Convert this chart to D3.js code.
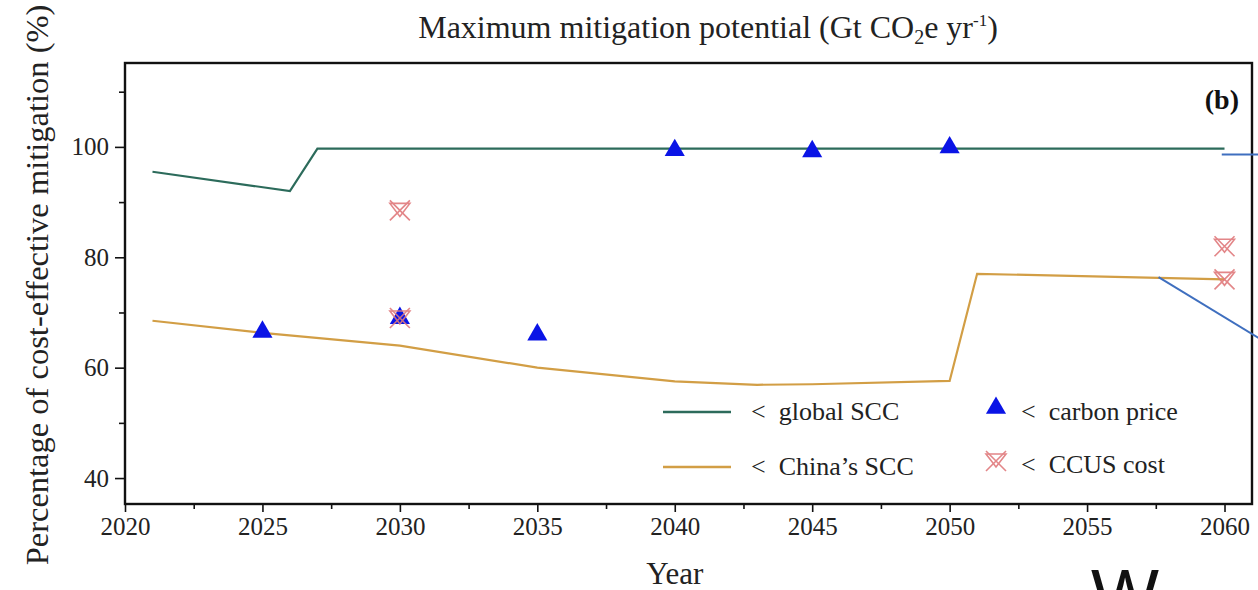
<!DOCTYPE html>
<html>
<head>
<meta charset="utf-8">
<script src="https://cdn.jsdelivr.net/npm/d3@7"></script>
<style>
  html, body { margin: 0; padding: 0; background: #fff; }
  svg { display: block; font-family: 'Liberation Serif', 'DejaVu Serif', serif; }
</style>
</head>
<body>
<div id="chart"></div>
<script>
// Data
var globalYears = [2021, 2026, 2027, 2060];
var globalVals = [95.5, 92.0, 99.7, 99.7];

var chinaYears = [2021, 2025, 2030, 2035, 2040, 2043, 2045, 2050, 2051, 2060];
var chinaVals = [68.5, 66.3, 64.0, 60.0, 57.5, 56.9, 57.0, 57.6, 77.0, 76.0];

var carbonYears = [2025, 2030, 2035, 2040, 2045, 2050];
var carbonVals = [66.3, 68.8, 65.8, 99.2, 99.0, 99.7];

var ccusYears = [2030, 2030, 2060, 2060];
var ccusVals = [88.5, 69.0, 82.0, 76.0];

var xTicks = [2020, 2025, 2030, 2035, 2040, 2045, 2050, 2055, 2060];
var xMinor = [2022.5, 2027.5, 2032.5, 2037.5, 2042.5, 2047.5, 2052.5, 2057.5];
var yTicks = [40, 60, 80, 100];
var yMinor = [50, 70, 90, 110];

(function () {
  'use strict';
  var width = 1258, height = 590;
  var margin = { top: 63, right: 6, bottom: 86, left: 125 };
  var iw = width - margin.left - margin.right;
  var ih = height - margin.top - margin.bottom;

  var green = '#2c6b5b', orange = '#d29e45', blue = '#0a14e6', pink = '#e0797c';

  var svg = d3.select('#chart').append('svg').attr('width', width).attr('height', height);
  var g = svg.append('g').attr('transform', 'translate(' + margin.left + ',' + margin.top + ')');

  var x = d3.scaleLinear().domain([2020, 2061]).range([0, iw]);
  var y = d3.scaleLinear().domain([35.3, 115.2]).range([ih, 0]);

  // axes
  g.append('g').attr('class', 'xax').attr('transform', 'translate(0,' + ih + ')')
    .call(d3.axisBottom(x).tickValues(xTicks).tickFormat(d3.format('d')).tickSize(8).tickPadding(5));
  g.append('g').attr('transform', 'translate(0,' + ih + ')')
    .call(d3.axisBottom(x).tickValues(xMinor).tickFormat('').tickSize(5))
    .select('.domain').remove();
  g.append('g').attr('class', 'yax')
    .call(d3.axisLeft(y).tickValues(yTicks).tickSize(10).tickPadding(6));
  g.append('g')
    .call(d3.axisLeft(y).tickValues(yMinor).tickFormat('').tickSize(6))
    .select('.domain').remove();
  svg.selectAll('.xax .tick text').attr('font-size', 25);
  svg.selectAll('.yax .tick text').attr('font-size', 25);
  svg.selectAll('.tick text').attr('fill', '#222').attr('font-family', "'Liberation Serif', serif");
  svg.selectAll('.tick line').attr('stroke', '#111').attr('stroke-width', 1.6);
  svg.selectAll('.domain').attr('stroke', 'none');

  // frame
  g.append('rect').attr('x', 0).attr('y', 0).attr('width', iw).attr('height', ih)
    .attr('fill', 'none').attr('stroke', '#111').attr('stroke-width', 2.4);

  // lines
  var line = d3.line().x(function (d) { return x(d[0]); }).y(function (d) { return y(d[1]); });
  g.append('path').datum(d3.zip(chinaYears, chinaVals)).attr('d', line)
    .attr('fill', 'none').attr('stroke', orange).attr('stroke-width', 2.2);
  g.append('path').datum(d3.zip(globalYears, globalVals)).attr('d', line)
    .attr('fill', 'none').attr('stroke', green).attr('stroke-width', 2.2);

  // markers
  var tri = d3.symbol().type(d3.symbolTriangle).size(175);
  function drawTri(sel, cx, cy) {
    sel.append('path').attr('d', tri()).attr('transform', 'translate(' + cx + ',' + (cy - 1) + ')')
      .attr('fill', blue);
  }
  function drawCcus(sel, cx, cy) {
    var s = 10;
    var m = sel.append('g').attr('transform', 'translate(' + cx + ',' + cy + ')')
      .attr('stroke', pink).attr('stroke-width', 1.6).attr('fill', 'none').attr('opacity', 0.9);
    m.append('path').attr('d', 'M' + (-s) + ',' + (-s) + 'L' + s + ',' + s + 'M' + s + ',' + (-s) + 'L' + (-s) + ',' + s);
    m.append('path').attr('d', 'M' + (-s) + ',' + (-s * 0.7) + 'L0,' + (s * 0.6) + 'L' + s + ',' + (-s * 0.7) + 'Z');
  }
  carbonYears.forEach(function (yr, i) { drawTri(g, x(yr), y(carbonVals[i])); });
  ccusYears.forEach(function (yr, i) { drawCcus(g, x(yr), y(ccusVals[i])); });

  // legend
  var lg = g.append('g').attr('font-size', 26).attr('fill', '#222');
  function legLine(ly, color, label) {
    lg.append('line').attr('x1', 538).attr('x2', 606).attr('y1', ly).attr('y2', ly)
      .attr('stroke', color).attr('stroke-width', 2.4);
    lg.append('text').attr('x', 626).attr('y', ly + 8).attr('xml:space', 'preserve').text('<  ' + label);
  }
  legLine(349, green, 'global SCC');
  legLine(404, orange, 'China\u2019s SCC');
  drawTri(lg, 871, 346);
  lg.append('text').attr('x', 896).attr('y', 357).attr('xml:space', 'preserve').text('<  carbon price');
  drawCcus(lg, 871, 398);
  lg.append('text').attr('x', 896).attr('y', 410).attr('xml:space', 'preserve').text('<  CCUS cost');

  // panel label
  g.append('text').attr('x', iw - 13).attr('y', 46).attr('text-anchor', 'end')
    .attr('font-size', 28).attr('font-weight', 'bold').attr('fill', '#111').text('(b)');

  // axis titles
  svg.append('text').attr('x', margin.left + x(2040)).attr('y', 584).attr('text-anchor', 'middle')
    .attr('font-size', 31).attr('fill', '#222').text('Year');
  svg.append('text').attr('transform', 'translate(48,285) rotate(-90)').attr('text-anchor', 'middle')
    .attr('font-size', 32.5).attr('fill', '#222').text('Percentage of cost-effective mitigation (%)');

  // title from the panel above
  var t = svg.append('text').attr('x', 708).attr('y', 38).attr('text-anchor', 'middle')
    .attr('font-size', 32).attr('fill', '#222');
  t.append('tspan').text('Maximum mitigation potential (Gt CO');
  t.append('tspan').attr('font-size', 20).attr('dy', 6).text('2');
  t.append('tspan').attr('dy', -6).text('e yr');
  t.append('tspan').attr('font-size', 17).attr('dy', -12).text('-1');
  t.append('tspan').attr('dy', 12).text(')');

  // blue callout lines at the right edge
  var callouts = [[[2059.9, 98.6], [2061.3, 98.6]], [[2057.6, 76.4], [2061.3, 65.2]]];
  callouts.forEach(function (c) {
    g.append('line').attr('x1', x(c[0][0])).attr('y1', y(c[0][1]))
      .attr('x2', x(c[1][0])).attr('y2', y(c[1][1]))
      .attr('stroke', '#3f6fbf').attr('stroke-width', 2);
  });

  // stray large letter cut at the bottom edge of the figure
  svg.append('text').attr('x', 1125).attr('y', 620).attr('text-anchor', 'middle')
    .attr('font-family', "'Liberation Sans', sans-serif").attr('font-size', 72)
    .attr('fill', '#111').text('W');
})();
</script>
</body>
</html>
